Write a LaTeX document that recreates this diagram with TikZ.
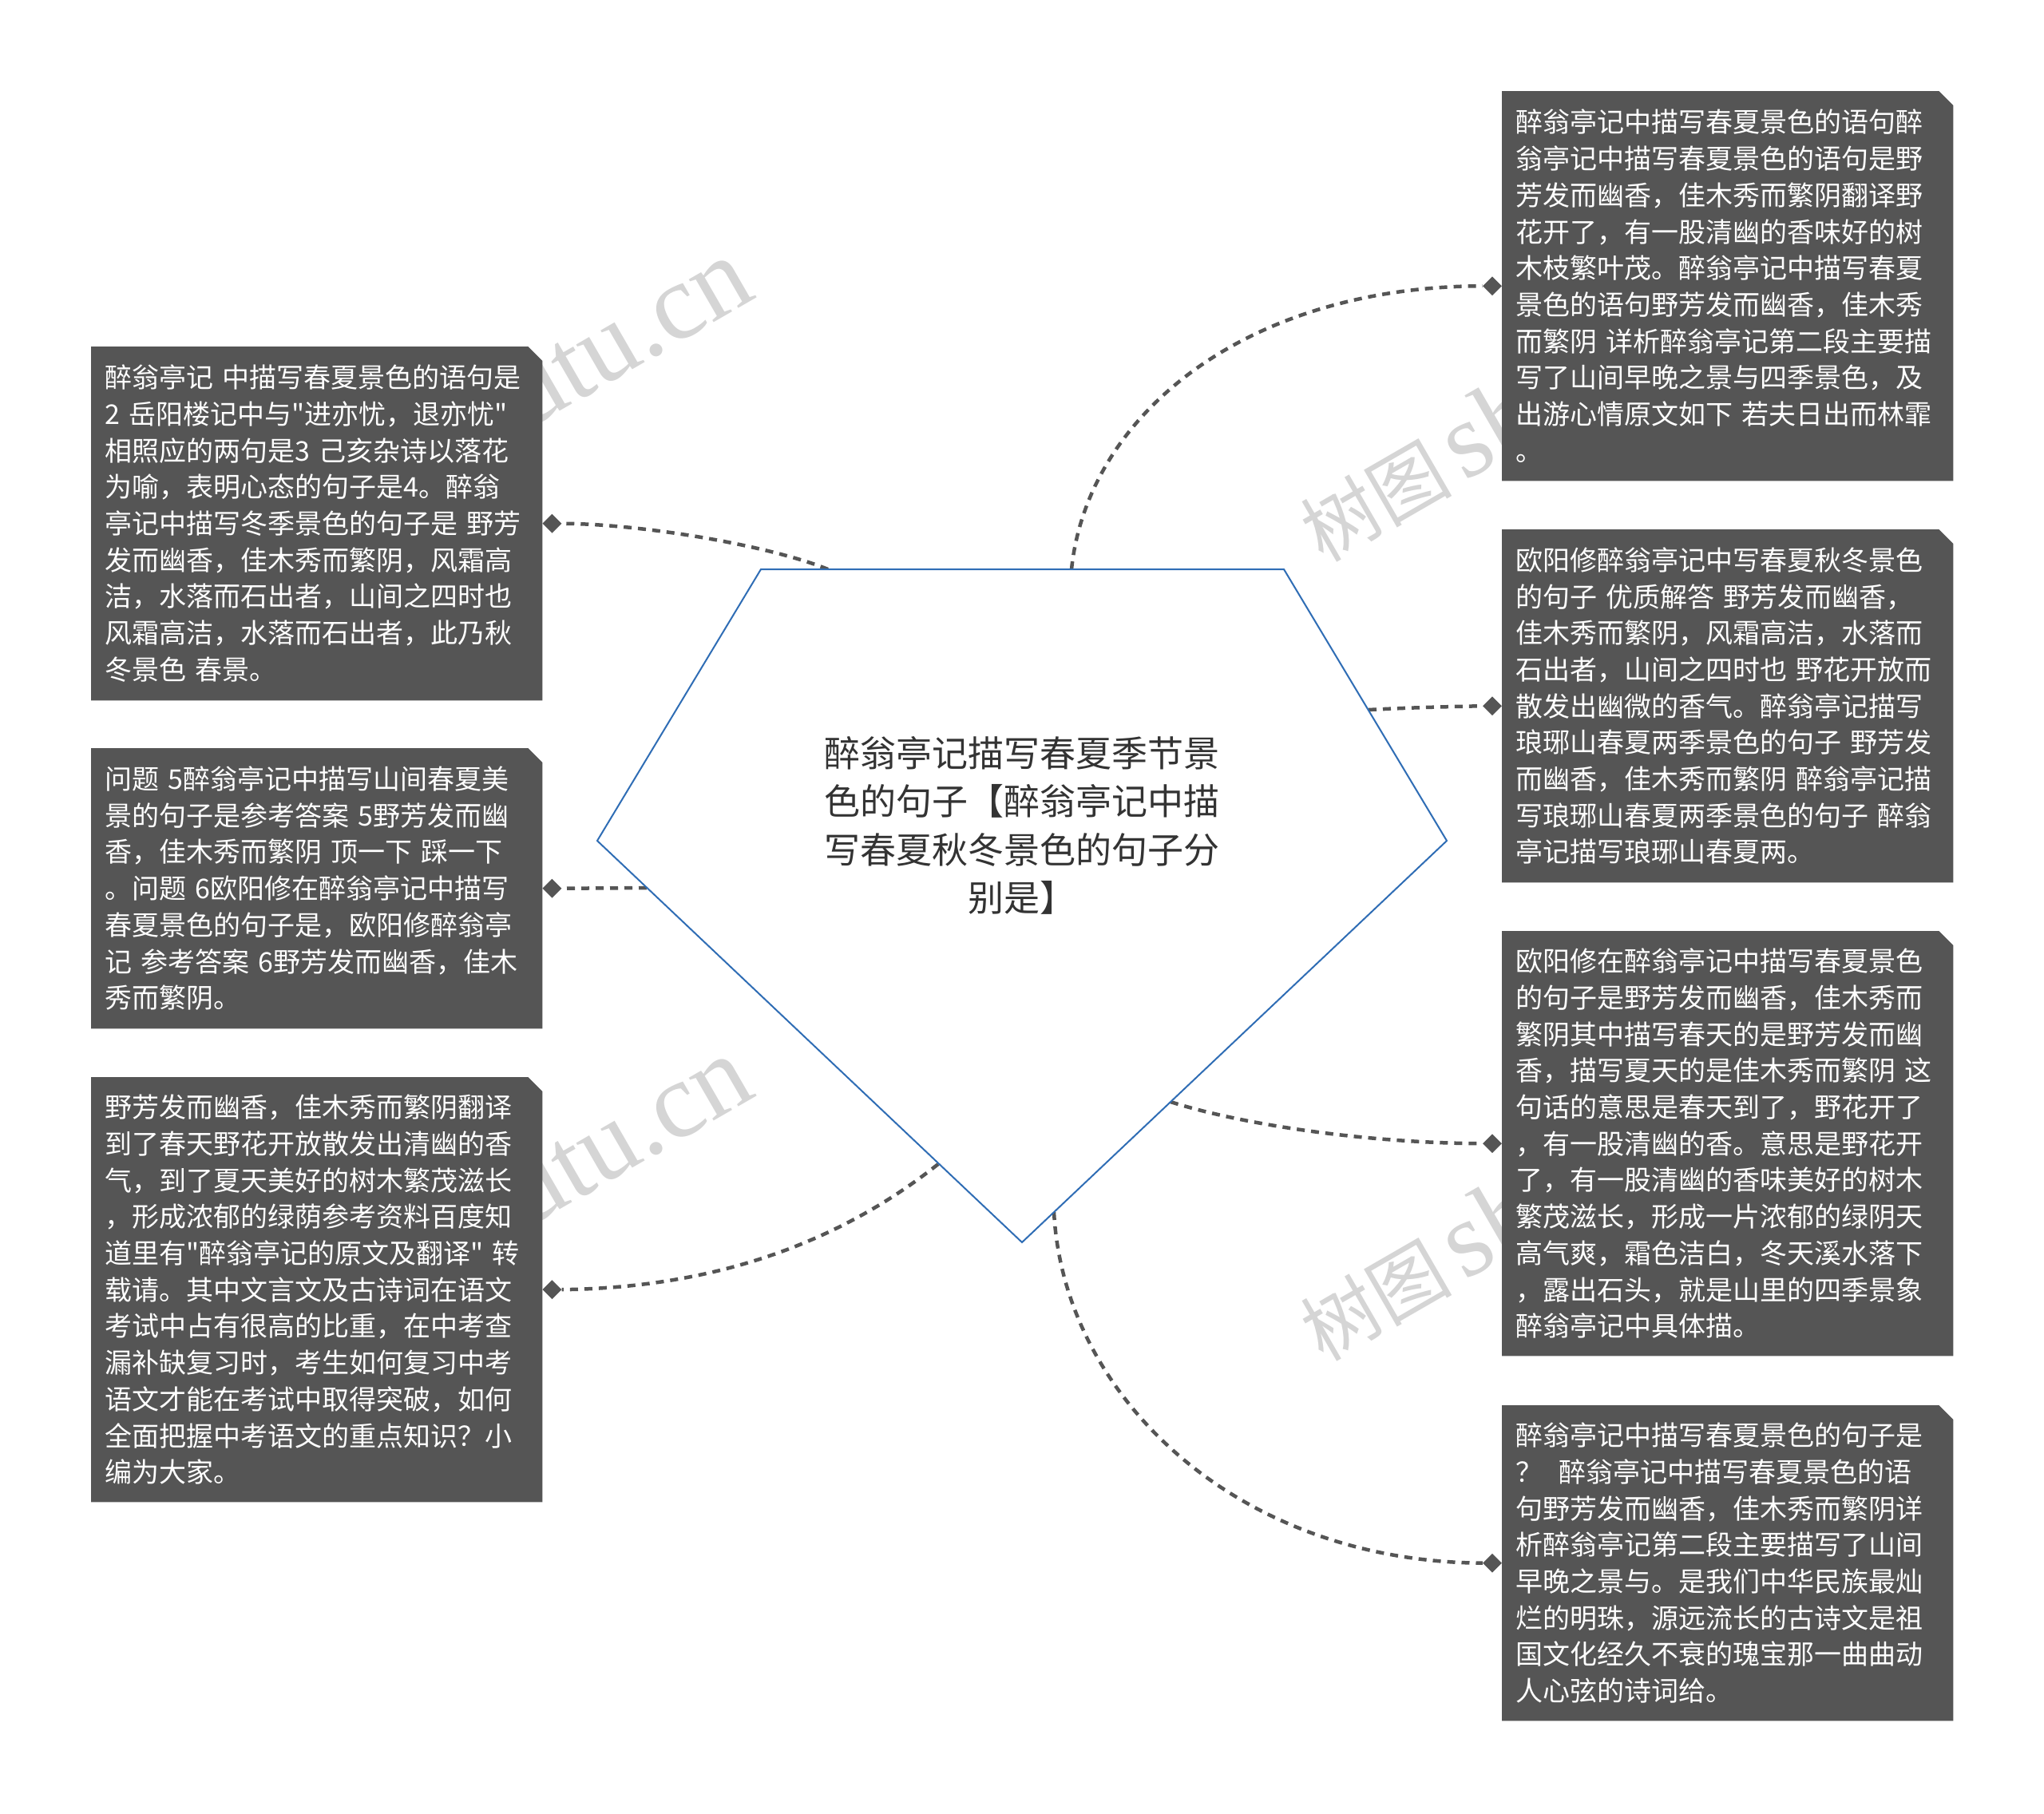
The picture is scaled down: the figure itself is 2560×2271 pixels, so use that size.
\documentclass[tikz,border=0pt]{standalone}
\usepackage{fontspec}
\newfontfamily\cjk{Noto Sans CJK SC}
\newfontfamily\wmlat{Liberation Serif}
\usetikzlibrary{shapes.geometric,calc}
\pgfdeclarelayer{bg}
\pgfdeclarelayer{wmlayer}
\pgfdeclarelayer{boxlayer}
\pgfsetlayers{bg,wmlayer,boxlayer,main}
\definecolor{boxgray}{HTML}{555555}
\definecolor{linegray}{HTML}{555555}
\definecolor{pentblue}{HTML}{2F6DB5}
\definecolor{rootink}{HTML}{333333}
\definecolor{wmgray}{RGB}{150,150,150}
\tikzset{
  boxtext/.style={anchor=north west, text width=531pt, align=left, inner xsep=17pt, inner ysep=0pt,
    minimum width=565pt, font={\cjk\fontsize{34}{45.7}\selectfont}, text=white},
  conn/.style={draw=linegray, line width=4.5pt, dash pattern=on 10pt off 8pt},
  enddiamond/.style={diamond, fill=linegray, inner sep=0pt, minimum width=24pt, minimum height=24pt},
  wm/.style={text=wmgray, text opacity=0.4, inner sep=0pt, rotate=30},
  pentagon/.style={draw=pentblue, line width=2pt, fill=white},
  rootstyle/.style={font={\cjk\fontsize{45}{60.4}\selectfont}, text=rootink, align=center, inner sep=0pt}
}
\newcommand{\wmtext}{{\cjk\fontsize{95}{95}\selectfont 树图}\hspace{15pt}{\wmlat\fontsize{135}{135}\selectfont shutu.cn}}
\begin{document}
\begin{tikzpicture}[x=1pt,y=-1pt]
\useasboundingbox (0,0) rectangle (2560,2271);

% pentagon vertices and connector anchors
\coordinate (pTL) at (953,713);
\coordinate (pTR) at (1608,713);
\coordinate (pR) at (1812,1053);
\coordinate (pB) at (1280,1556);
\coordinate (pL) at (748,1053);
\coordinate (c1) at (1037,713);
\coordinate (c2) at (810,1112);
\coordinate (c3) at (1175,1458);
\coordinate (c4) at (1342,713);
\coordinate (c5) at (1714,889);
\coordinate (c6) at (1466,1380);
\coordinate (c7) at (1320,1518);

\draw[pentagon] (pTL) -- (pTR) -- (pR) -- (pB) -- (pL) -- cycle;
\node[rootstyle] (root) at (1280,1034) {醉翁亭记描写春夏季节景\\色的句子【醉翁亭记中描\\写春夏秋冬景色的句子分\\别是】};

% left boxes
\node[boxtext, minimum height=443pt] (l1) at (114,434) {醉翁亭记~中描写春夏景色的语句是\\2~岳阳楼记中与"进亦忧，退亦忧"\\相照应的两句是3~己亥杂诗以落花\\为喻，表明心态的句子是4。醉翁\\亭记中描写冬季景色的句子是~野芳\\发而幽香，佳木秀而繁阴，风霜高\\洁，水落而石出者，山间之四时也\\风霜高洁，水落而石出者，此乃秋\\冬景色~春景。};
\node[boxtext, minimum height=351pt] (l2) at (114,937) {问题~5醉翁亭记中描写山间春夏美\\景的句子是参考答案~5野芳发而幽\\香，佳木秀而繁阴~顶一下~踩一下\\。问题~6欧阳修在醉翁亭记中描写\\春夏景色的句子是，欧阳修醉翁亭\\记~参考答案~6野芳发而幽香，佳木\\秀而繁阴。};
\node[boxtext, minimum height=532pt] (l3) at (114,1349) {野芳发而幽香，佳木秀而繁阴翻译\\到了春天野花开放散发出清幽的香\\气，到了夏天美好的树木繁茂滋长\\，形成浓郁的绿荫参考资料百度知\\道里有"醉翁亭记的原文及翻译"~转\\载请。其中文言文及古诗词在语文\\考试中占有很高的比重，在中考查\\漏补缺复习时，考生如何复习中考\\语文才能在考试中取得突破，如何\\全面把握中考语文的重点知识？小\\编为大家。};

% right boxes
\node[boxtext, minimum height=488pt] (r1) at (1881,114) {醉翁亭记中描写春夏景色的语句醉\\翁亭记中描写春夏景色的语句是野\\芳发而幽香，佳木秀而繁阴翻译野\\花开了，有一股清幽的香味好的树\\木枝繁叶茂。醉翁亭记中描写春夏\\景色的语句野芳发而幽香，佳木秀\\而繁阴~详析醉翁亭记第二段主要描\\写了山间早晚之景与四季景色，及\\出游心情原文如下~若夫日出而林霏\\。};
\node[boxtext, minimum height=442pt] (r2) at (1881,663) {欧阳修醉翁亭记中写春夏秋冬景色\\的句子~优质解答~野芳发而幽香，\\佳木秀而繁阴，风霜高洁，水落而\\石出者，山间之四时也~野花开放而\\散发出幽微的香气。醉翁亭记描写\\琅琊山春夏两季景色的句子~野芳发\\而幽香，佳木秀而繁阴~醉翁亭记描\\写琅琊山春夏两季景色的句子~醉翁\\亭记描写琅琊山春夏两。};
\node[boxtext, minimum height=532pt] (r3) at (1881,1166) {欧阳修在醉翁亭记中描写春夏景色\\的句子是野芳发而幽香，佳木秀而\\繁阴其中描写春天的是野芳发而幽\\香，描写夏天的是佳木秀而繁阴~这\\句话的意思是春天到了，野花开了\\，有一股清幽的香。意思是野花开\\了，有一股清幽的香味美好的树木\\繁茂滋长，形成一片浓郁的绿阴天\\高气爽，霜色洁白，冬天溪水落下\\，露出石头，就是山里的四季景象\\醉翁亭记中具体描。};
\node[boxtext, minimum height=395pt] (r4) at (1881,1760) {醉翁亭记中描写春夏景色的句子是\\？\hspace{0.6em}醉翁亭记中描写春夏景色的语\\句野芳发而幽香，佳木秀而繁阴详\\析醉翁亭记第二段主要描写了山间\\早晚之景与。是我们中华民族最灿\\烂的明珠，源远流长的古诗文是祖\\国文化经久不衰的瑰宝那一曲曲动\\人心弦的诗词给。};

% end diamonds
\node[enddiamond] (d1) at ([xshift=12pt]l1.east) {};
\node[enddiamond] (d2) at ([xshift=12pt]l2.east) {};
\node[enddiamond] (d3) at ([xshift=12pt]l3.east) {};
\node[enddiamond] (d4) at ([xshift=-12pt]r1.west) {};
\node[enddiamond] (d5) at ([xshift=-12pt]r2.west) {};
\node[enddiamond] (d6) at ([xshift=-12pt]r3.west) {};
\node[enddiamond] (d7) at ([xshift=-12pt]r4.west) {};

\begin{pgfonlayer}{bg}
  \fill[white] (0,0) rectangle (2560,2271);
  \draw[conn] (c1) .. controls (960,682) and (800,656) .. (d1.east);
  \draw[conn] (c2) -- (d2.east);
  \draw[conn] (c3) .. controls (1040,1565) and (880,1613) .. (d3.east);
  \draw[conn] (c4) .. controls (1362,520) and (1560,359) .. (d4.west);
  \draw[conn] (c5) .. controls (1770,886) and (1820,885) .. (d5.west);
  \draw[conn] (c6) .. controls (1560,1410) and (1720,1432) .. (d6.west);
  \draw[conn] (c7) .. controls (1332,1750) and (1550,1956) .. (d7.west);
\end{pgfonlayer}

\begin{pgfonlayer}{wmlayer}
  \node[wm, anchor=base east] (wm1) at (950,372) {\wmtext};
  \node[wm, anchor=base east] (wm2) at (950,1372) {\wmtext};
  \node[wm, anchor=base west] (wm3) at (1657,706) {\wmtext};
  \node[wm, anchor=base west] (wm4) at (1657,1707) {\wmtext};
\end{pgfonlayer}

\begin{pgfonlayer}{boxlayer}
  \foreach \b in {l1,l2,l3,r1,r2,r3,r4}
    \fill[boxgray] (\b.south west) -- (\b.north west) -- ([xshift=-18pt]\b.north east)
      -- ([yshift=-18pt]\b.north east) -- (\b.south east) -- cycle;
\end{pgfonlayer}
\end{tikzpicture}
\end{document}
